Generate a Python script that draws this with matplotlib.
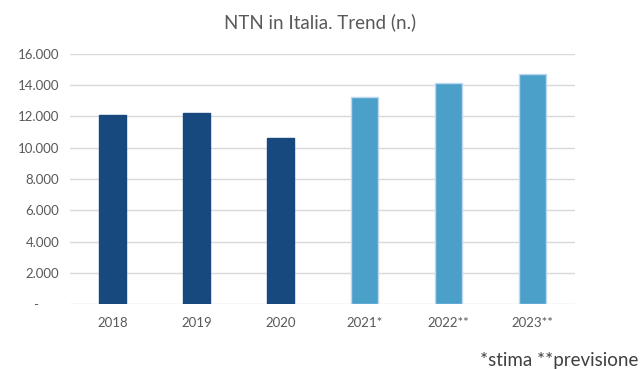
import matplotlib
matplotlib.use("Agg")
import matplotlib.pyplot as plt
from matplotlib.ticker import FuncFormatter

plt.rcParams['font.family'] = ['Lato', 'DejaVu Sans']

# NTN per anno (2021 stima, 2022-2023 previsione)
years = ['2018', '2019', '2020', '2021*', '2022**', '2023**']
ntn = [12100, 12200, 10650, 13250, 14150, 14700]
forecast = [False, False, False, True, True, True]
yticks = [0, 2000, 4000, 6000, 8000, 10000, 12000, 14000, 16000]

dark = '#17497E'
light = '#4BA0CA'

fig = plt.figure(figsize=(6.4, 3.69), dpi=100)
ax = fig.add_axes([0.110, 0.176, 0.788, 0.678])

colors = [light if f else dark for f in forecast]
edges = ['#BDD7EE' if f else dark for f in forecast]
ax.bar(range(len(years)), ntn, width=0.32, color=colors, edgecolor=edges,
       linewidth=1.0, zorder=3)

ax.set_xlim(-0.5, len(years) - 0.5)
ax.set_ylim(0, 16000)
ax.set_yticks(yticks)


def fmt(v, pos):
    if v == 0:
        return '-      '
    return f'{int(v):,}'.replace(',', '.')


ax.yaxis.set_major_formatter(FuncFormatter(fmt))
ax.set_xticks(range(len(years)))
ax.set_xticklabels(years)
ax.tick_params(axis='both', length=0, labelsize=9.5, colors='#595959')
ax.tick_params(axis='x', pad=9)
ax.tick_params(axis='y', pad=8)

ax.grid(axis='y', color='#D9D9D9', linewidth=1.0, zorder=0)
for s in ax.spines.values():
    s.set_visible(False)

fig.text(0.5, 0.94, 'NTN in Italia. Trend (n.)', ha='center', va='center',
         fontsize=13.5, color='#595959')
fig.text(0.998, 0.022, '*stima **previsione', ha='right', va='center',
         fontsize=13.5, color='#404040')

fig.savefig('out.png', dpi=100)
